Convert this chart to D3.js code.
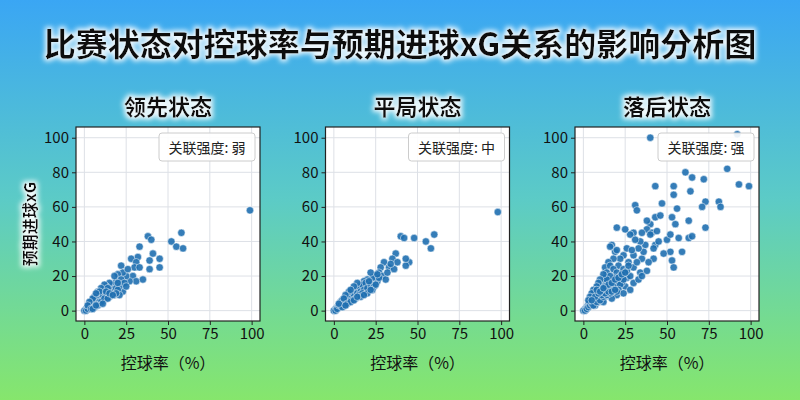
<!DOCTYPE html>
<html><head><meta charset="utf-8">
<script src="https://cdn.jsdelivr.net/npm/d3@7"></script>
<style>body{margin:0;}svg{display:block;}</style>
</head><body>
<svg id="c" width="800" height="400"></svg>
<script>
const panelTitles = ["领先状态","平局状态","落后状态"];
const strengthLabels = ["关联强度: 弱","关联强度: 中","关联强度: 强"];
const xTicks = [0,25,50,75,100];
const yTicks = [0,20,40,60,80,100];
const leadPoints = [[99,58],[58,45],[52,40],[55,37],[59,36],[38,43],[40,41],[41,33],[45,30],[45,25],[39,29],[39,24],[33,37],[32,31],[28,30],[31,28],[30,25],[33,25],[29,20],[31,17],[35,18],[27,17],[25,20],[22,26],[23,22],[23,11],[20,21],[19,17],[18,20],[17,15],[21,14],[16,13],[15,16],[14,11],[13,14],[12,9],[11,12],[10,7],[9,9],[8,6],[7,8],[6,4],[5,5],[4,3],[3,2],[2,2],[1,1],[0,0],[1,0],[2,1],[3,3],[4,5],[5,3],[6,6],[7,5],[8,9],[9,7],[10,10],[11,8],[12,12],[13,10],[14,9],[15,12],[16,10],[17,12],[18,11],[19,13],[20,12],[12,15],[10,13],[8,11],[6,8],[5,7],[3,5],[2,3],[4,1],[6,2],[9,5],[11,6],[13,7],[15,8],[18,9],[22,18],[24,16],[26,24],[20,16],[14,13],[16,9],[9,11],[7,10],[25,14],[21,9],[19,10],[10,5],[12,7],[14,7],[8,3],[5,1],[13,11],[15,10],[17,9],[7,3],[11,4]];
const drawPoints = [[98,57],[60,44],[55,40],[58,36],[48,42],[40,43],[42,42],[45,28],[43,26],[43,30],[37,33],[35,30],[30,28],[33,25],[28,25],[27,22],[25,20],[29,20],[31,18],[26,17],[23,19],[22,22],[21,15],[20,18],[19,14],[18,17],[17,12],[16,15],[15,11],[14,13],[13,9],[12,12],[11,8],[10,10],[9,7],[8,8],[7,5],[6,6],[5,4],[4,5],[3,2],[2,2],[1,1],[0,0],[1,0],[2,1],[3,3],[4,3],[5,6],[6,4],[7,7],[8,6],[9,9],[10,7],[11,11],[12,9],[13,12],[14,10],[15,14],[16,11],[17,15],[18,12],[19,16],[20,13],[22,15],[24,14],[23,12],[9,11],[7,9],[5,2],[3,4],[11,6],[13,7],[15,9],[17,10],[25,15],[27,19],[32,22],[36,24],[38,28],[21,17],[14,16],[12,14],[10,12],[6,7],[8,4],[16,8],[20,10],[26,21],[34,27],[10,5],[12,6],[14,8],[7,3],[18,9],[22,12]];
const trailPoints = [[92,102],[40,100],[86,82],[93,73],[99,72],[61,80],[65,77],[72,76],[43,72],[54,72],[54,67],[64,69],[73,63],[71,60],[81,63],[82,60],[31,61],[32,58],[47,62],[56,59],[43,54],[46,55],[53,54],[55,50],[63,52],[73,48],[57,42],[63,42],[65,43],[59,34],[52,34],[53,29],[54,25],[50,41],[52,44],[40,50],[38,47],[41,45],[44,46],[40,44],[43,38],[42,36],[37,38],[35,30],[36,34],[34,40],[33,36],[30,45],[28,44],[25,47],[20,48],[19,34],[17,38],[16,37],[30,25],[32,28],[34,22],[38,23],[30,32],[26,36],[24,32],[27,28],[22,30],[21,26],[20,35],[18,30],[15,28],[13,25],[14,22],[16,26],[18,24],[20,22],[22,20],[24,24],[26,19],[28,20],[25,14],[23,16],[28,12],[30,16],[33,18],[35,20],[17,17],[19,19],[15,18],[14,15],[13,19],[12,16],[11,13],[10,15],[9,12],[8,10],[7,11],[6,8],[5,7],[4,5],[3,4],[2,2],[1,1],[0,0],[1,0],[2,1],[3,2],[4,3],[5,4],[6,5],[7,6],[8,7],[9,8],[10,9],[11,10],[12,11],[13,12],[14,11],[15,13],[16,12],[17,14],[18,13],[19,15],[20,14],[21,17],[22,15],[23,19],[24,18],[26,23],[27,26],[16,20],[14,18],[12,21],[10,18],[9,16],[8,14],[6,12],[5,10],[4,8],[3,6],[7,3],[9,5],[11,6],[13,8],[15,9],[18,10],[20,9],[17,7],[12,5],[21,12],[24,10],[29,35],[31,41],[35,45],[38,52],[45,40],[48,33],[42,30],[39,28],[6,3],[8,5],[10,6],[12,8],[14,9],[16,10],[18,12],[20,11],[11,9],[13,10],[15,11],[17,11],[19,12],[7,8],[9,10],[11,12],[13,14],[15,15],[17,16],[19,18],[21,19],[23,21],[25,22],[5,6],[8,12],[10,11],[12,13]];
const panelData = [leadPoints, drawPoints, trailPoints];

const svg = d3.select("#c");
const defs = svg.append("defs");
const g = defs.append("linearGradient").attr("id","bg").attr("x1",0).attr("y1",0).attr("x2",0).attr("y2",1);
g.append("stop").attr("offset","0%").attr("stop-color","#3aa6f4");
g.append("stop").attr("offset","50%").attr("stop-color","#5ccbc6");
g.append("stop").attr("offset","100%").attr("stop-color","#86e66c");
const f = defs.append("filter").attr("id","glow").attr("x","-20%").attr("y","-50%").attr("width","140%").attr("height","200%");
f.append("feMorphology").attr("in","SourceAlpha").attr("operator","dilate").attr("radius",2).attr("result","d");
f.append("feGaussianBlur").attr("in","d").attr("stdDeviation",2.5).attr("result","b");
f.append("feFlood").attr("flood-color","#ffffff").attr("flood-opacity",0.9);
f.append("feComposite").attr("in2","b").attr("operator","in").attr("result","w");
const m = f.append("feMerge"); m.append("feMergeNode").attr("in","w"); m.append("feMergeNode").attr("in","SourceGraphic");
svg.append("rect").attr("width",800).attr("height",400).attr("fill","url(#bg)");

const font = "'Noto Sans CJK SC', sans-serif";
svg.append("text").attr("x",400).attr("y",56).attr("text-anchor","middle").attr("font-family",font)
  .attr("font-weight","bold").attr("font-size",32).attr("fill","#111").attr("filter","url(#glow)")
  .text("比赛状态对控球率与预期进球xG关系的影响分析图");

svg.append("text").attr("transform","translate(36,224) rotate(-90)").attr("text-anchor","middle")
  .attr("font-family",font).attr("font-weight","bold").attr("font-size",16).attr("fill","#111")
  .attr("filter","url(#glow)").text("预期进球xG");

const lefts = [76,325.5,575], W = 184, pTop = 127, H = 194;
panelData.forEach((pts,i) => {
  const L = lefts[i];
  const x = d3.scaleLinear().domain([-5,105]).range([L, L+W]);
  const y = d3.scaleLinear().domain([-6,106.2]).range([pTop+H, pTop]);
  svg.append("rect").attr("x",L).attr("y",pTop).attr("width",W).attr("height",H).attr("fill","#fff");
  const gg = svg.append("g");
  xTicks.forEach(t=>gg.append("line").attr("x1",x(t)).attr("x2",x(t)).attr("y1",pTop).attr("y2",pTop+H).attr("stroke","#dde0e6"));
  yTicks.forEach(t=>gg.append("line").attr("y1",y(t)).attr("y2",y(t)).attr("x1",L).attr("x2",L+W).attr("stroke","#dde0e6"));
  svg.append("g").selectAll("circle").data(pts).join("circle")
    .attr("cx",d=>x(d[0])).attr("cy",d=>y(d[1])).attr("r",3.7)
    .attr("fill","#1f6fb0").attr("fill-opacity",0.9).attr("stroke","#fff").attr("stroke-width",0.5);
  const xa = svg.append("g").attr("transform",`translate(0,${pTop+H})`).call(d3.axisBottom(x).tickValues(xTicks).tickSize(4).tickPadding(3));
  const ya = svg.append("g").attr("transform",`translate(${L},0)`).call(d3.axisLeft(y).tickValues(yTicks).tickSize(4).tickPadding(3));
  [xa,ya].forEach(a=>{a.select(".domain").remove();a.selectAll("text").attr("font-family",font).attr("font-size",15).attr("fill","#111");a.selectAll("line").attr("stroke","#222");});
  svg.append("rect").attr("x",L).attr("y",pTop).attr("width",W).attr("height",H).attr("fill","none").attr("stroke","#222").attr("stroke-width",1.2);
  svg.append("text").attr("x",L+W/2).attr("y",pTop-12).attr("text-anchor","middle").attr("font-family",font)
    .attr("font-weight","bold").attr("font-size",22).attr("fill","#111").attr("filter","url(#glow)").text(panelTitles[i]);
  svg.append("text").attr("x",L+W/2).attr("y",369).attr("text-anchor","middle").attr("font-family",font)
    .attr("font-size",16).attr("fill","#111").text("控球率（%）");
  const bx = L+W-101, by = pTop+6;
  svg.append("rect").attr("x",bx).attr("y",by).attr("width",96).attr("height",28).attr("rx",3)
    .attr("fill","#fff").attr("fill-opacity",0.9).attr("stroke","#ccc");
  svg.append("text").attr("x",bx+48).attr("y",by+19.5).attr("text-anchor","middle").attr("font-family",font)
    .attr("font-size",14).attr("fill","#222").text(strengthLabels[i]);
});
</script>
</body></html>
